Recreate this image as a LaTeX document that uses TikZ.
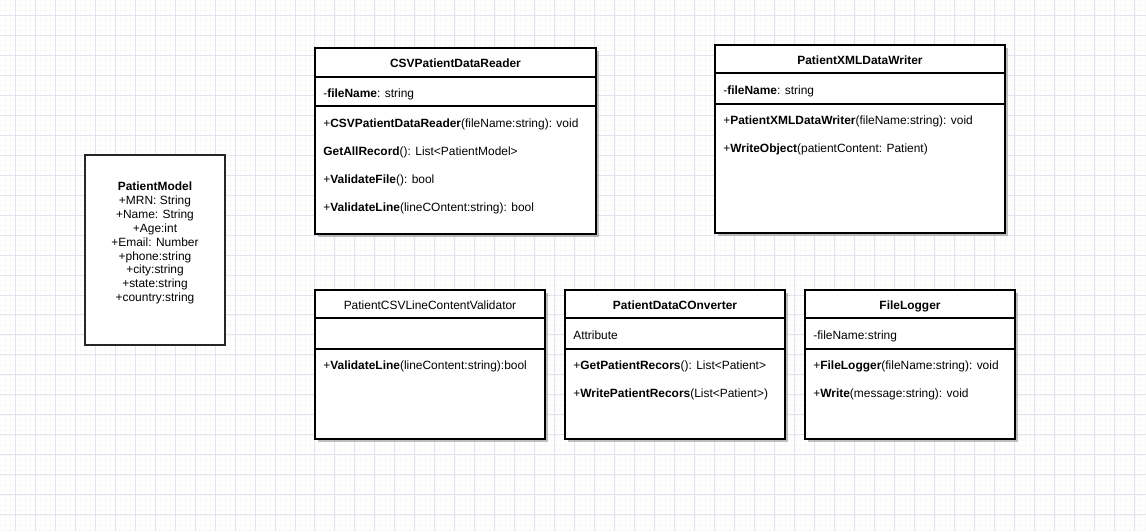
\documentclass[tikz,border=0pt]{standalone}
\usepackage{fontspec}
\setmainfont{Liberation Sans}
\usetikzlibrary{shadows}
\definecolor{gridmajor}{RGB}{228,228,240}
\definecolor{gridminor}{RGB}{249,249,250}
\begin{document}
\begin{tikzpicture}[x=0.02cm,y=-0.02cm,
  classbox/.style={draw=black,line width=1.1pt,fill=white,inner sep=0pt,
    drop shadow={shadow xshift=0.06cm,shadow yshift=-0.06cm,fill=black!45,opacity=0.55}},
  plainbox/.style={draw=black!85,line width=1.1pt,fill=white,inner sep=0pt},
  ctitle/.style={anchor=base,font=\fontsize{6.8}{8}\selectfont\bfseries,inner sep=0pt},
  member/.style={anchor=base west,font=\fontsize{6.8}{8}\selectfont,inner sep=0pt},
  divider/.style={line width=1.1pt}]
\useasboundingbox[fill=white] (0,0) rectangle (1146,531);
% background grid
\begin{scope}[x=1cm,y=1cm,shift={(0.3,-0.3)}]
\draw[gridminor,line width=0.3pt] (-0.3,0.3) grid[step=0.1] (22.62,-10.32);
\draw[gridmajor,line width=0.5pt] (-0.3,0.3) grid[step=0.4] (22.62,-10.32);
\end{scope}
% PatientModel
\node[plainbox,minimum width=2.8cm,minimum height=3.8cm] (model) at (155,250) {};
\node[align=center,font=\fontsize{6.8}{7.94}\selectfont,inner sep=0pt] (modeltext) at (155,243)
  {\textbf{PatientModel}\\+MRN: String\\+Name: String\\+Age:int\\+Email: Number\\+phone:string\\+city:string\\+state:string\\+country:string};
% CSVPatientDataReader
\node[classbox,minimum width=5.62cm,minimum height=3.72cm] (reader) at (455.5,141) {};
\draw[divider] ([yshift=-0.6cm]reader.north west) -- ([yshift=-0.6cm]reader.north east);
\draw[divider] ([yshift=-1.18cm]reader.north west) -- ([yshift=-1.18cm]reader.north east);
\node[ctitle] (readertitle) at (455.5,67) {CSVPatientDataReader};
\node[member] (readera1) at (323,97) {-\textbf{fileName}: string};
\node[member] (readerm1) at (323,127) {+\textbf{CSVPatientDataReader}(fileName:string): void};
\node[member] (readerm2) at (323,155) {\textbf{GetAllRecord}(): List<PatientModel>};
\node[member] (readerm3) at (323,183) {+\textbf{ValidateFile}(): bool};
\node[member] (readerm4) at (323,211) {+\textbf{ValidateLine}(lineCOntent:string): bool};
% PatientXMLDataWriter
\node[classbox,minimum width=5.8cm,minimum height=3.76cm] (writer) at (860,139) {};
\draw[divider] ([yshift=-0.58cm]writer.north west) -- ([yshift=-0.58cm]writer.north east);
\draw[divider] ([yshift=-1.2cm]writer.north west) -- ([yshift=-1.2cm]writer.north east);
\node[ctitle] (writertitle) at (860,64) {PatientXMLDataWriter};
\node[member] (writera1) at (723,94) {-\textbf{fileName}: string};
\node[member] (writerm1) at (723,124) {+\textbf{PatientXMLDataWriter}(fileName:string): void};
\node[member] (writerm2) at (723,152) {+\textbf{WriteObject}(patientContent: Patient)};
% PatientCSVLineContentValidator
\node[classbox,minimum width=4.6cm,minimum height=2.98cm] (validator) at (430,364.5) {};
\draw[divider] ([yshift=-0.58cm]validator.north west) -- ([yshift=-0.58cm]validator.north east);
\draw[divider] ([yshift=-1.2cm]validator.north west) -- ([yshift=-1.2cm]validator.north east);
\node[ctitle,font=\fontsize{6.8}{8}\selectfont] (validatortitle) at (430,309) {PatientCSVLineContentValidator};
\node[member] (validatorm1) at (323,369) {+\textbf{ValidateLine}(lineContent:string):bool};
% PatientDataCOnverter
\node[classbox,minimum width=4.4cm,minimum height=2.98cm] (converter) at (675,364.5) {};
\draw[divider] ([yshift=-0.58cm]converter.north west) -- ([yshift=-0.58cm]converter.north east);
\draw[divider] ([yshift=-1.2cm]converter.north west) -- ([yshift=-1.2cm]converter.north east);
\node[ctitle] (convertertitle) at (675,309) {PatientDataCOnverter};
\node[member] (convertera1) at (573,339) {Attribute};
\node[member] (converterm1) at (573,369) {+\textbf{GetPatientRecors}(): List<Patient>};
\node[member] (converterm2) at (573,397) {+\textbf{WritePatientRecors}(List<Patient>)};
% FileLogger
\node[classbox,minimum width=4.2cm,minimum height=2.98cm] (logger) at (910,364.5) {};
\draw[divider] ([yshift=-0.58cm]logger.north west) -- ([yshift=-0.58cm]logger.north east);
\draw[divider] ([yshift=-1.2cm]logger.north west) -- ([yshift=-1.2cm]logger.north east);
\node[ctitle] (loggertitle) at (910,309) {FileLogger};
\node[member] (loggera1) at (813,339) {-fileName:string};
\node[member] (loggerm1) at (813,369) {+\textbf{FileLogger}(fileName:string): void};
\node[member] (loggerm2) at (813,397) {+\textbf{Write}(message:string): void};
\end{tikzpicture}
\end{document}
